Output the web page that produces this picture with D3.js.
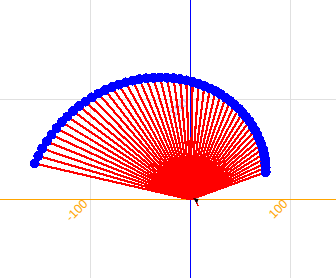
<!DOCTYPE html>
<html><head><meta charset="utf-8">
<script src="https://cdn.jsdelivr.net/npm/d3@7"></script>
<style>html,body{margin:0;padding:0;background:#fff;overflow:hidden}</style>
</head><body><svg id="c" width="336" height="278"></svg>
<script>
// point coordinates (data units)
const xValues = [-155.9,-152.2,-148.2,-143.8,-139.0,-134.0,-128.8,-123.1,-117.3,-111.3,
  -105.0,-98.6,-92.1,-85.5,-78.6,-71.8,-64.9,-58.0,-51.0,-44.1,
  -37.2,-30.4,-23.7,-17.0,-10.5,-4.2,2.1,8.1,13.9,19.5,
  25.0,30.2,35.1,39.7,44.2,48.3,52.1,55.7,59.0,61.9,
  64.6,67.0,69.0,70.8,72.3,73.4,74.3,74.9,75.1,75.2];
const yValues = [36.0,43.6,51.0,58.1,64.8,71.3,77.4,83.0,88.4,93.4,
  97.9,102.1,106.0,109.4,112.3,114.9,117.1,118.8,120.2,121.2,
  121.7,122.0,121.8,121.2,120.3,119.1,117.5,115.6,113.4,110.9,
  108.2,105.2,101.8,98.4,94.7,90.8,86.7,82.6,78.3,73.8,
  69.3,64.7,60.0,55.3,50.6,45.8,41.2,36.5,31.9,27.4];
const xTicks = [-100,100];
const xTickLabels = ["-100","100"];
const yTicks = [100];
const yTickLabels = ["100"];

const W = 336, H = 278;
const svg = d3.select("#c");
const x = d3.scaleLinear().domain([-190.5,145.5]).range([0,W]);
const y = d3.scaleLinear().domain([-78.5,199.5]).range([H,0]);
const x0 = x(0), y0 = y(0);

// grid
svg.append("g").selectAll("line").data(xTicks).join("line")
  .attr("x1",d=>x(d)).attr("x2",d=>x(d)).attr("y1",0).attr("y2",H)
  .attr("stroke","#e0e0e0").attr("shape-rendering","crispEdges");
svg.append("g").selectAll("line").data(yTicks).join("line")
  .attr("y1",d=>y(d)).attr("y2",d=>y(d)).attr("x1",0).attr("x2",W)
  .attr("stroke","#e0e0e0").attr("shape-rendering","crispEdges");

// y labels (faint)
svg.append("g").selectAll("text").data(yTicks).join("text")
  .attr("transform",d=>`translate(${x0-2},${y(d)+4}) rotate(-45)`)
  .attr("text-anchor","end").attr("font-family","Liberation Sans, Arial, sans-serif")
  .attr("font-size",12).attr("fill","#b4b4f4").text((d,i)=>yTickLabels[i]);

// axis lines
svg.append("line").attr("x1",x0).attr("x2",x0).attr("y1",0).attr("y2",H)
  .attr("stroke","#0000ff").attr("shape-rendering","crispEdges");
svg.append("line").attr("y1",y0).attr("y2",y0).attr("x1",0).attr("x2",W)
  .attr("stroke","#ffa500").attr("shape-rendering","crispEdges");

// x labels
svg.append("g").selectAll("text").data(xTicks).join("text")
  .attr("transform",d=>`translate(${x(d)-2},${y0+5}) rotate(-45)`)
  .attr("text-anchor","end").attr("font-family","Liberation Sans, Arial, sans-serif")
  .attr("font-size",12.5).attr("fill","#ffa500").text((d,i)=>xTickLabels[i]);

const pts = xValues.map((v,i)=>({x:v,y:yValues[i]}));

// red spokes
svg.append("g").selectAll("line").data(pts).join("line")
  .attr("x1",x0).attr("y1",y0).attr("x2",d=>x(d.x)).attr("y2",d=>y(d.y))
  .attr("stroke","#ff0000").attr("stroke-width",2.2).attr("shape-rendering","crispEdges");

// blue points
svg.append("g").selectAll("circle").data(pts).join("circle")
  .attr("cx",d=>x(d.x)).attr("cy",d=>y(d.y)).attr("r",5)
  .attr("fill","#0000ff").attr("shape-rendering","crispEdges");

// small arrow at origin
svg.append("line").attr("x1",x0+5).attr("y1",y0+1).attr("x2",x0+8).attr("y2",y0+7)
  .attr("stroke","#ff0000").attr("stroke-width",1).attr("shape-rendering","crispEdges");
svg.append("path")
  .attr("d",`M${x0+2.5},${y0-1.5}L${x0+8},${y0-0.5}L${x0+6.5},${y0+4}Z`)
  .attr("fill","#000");
</script></body></html>
